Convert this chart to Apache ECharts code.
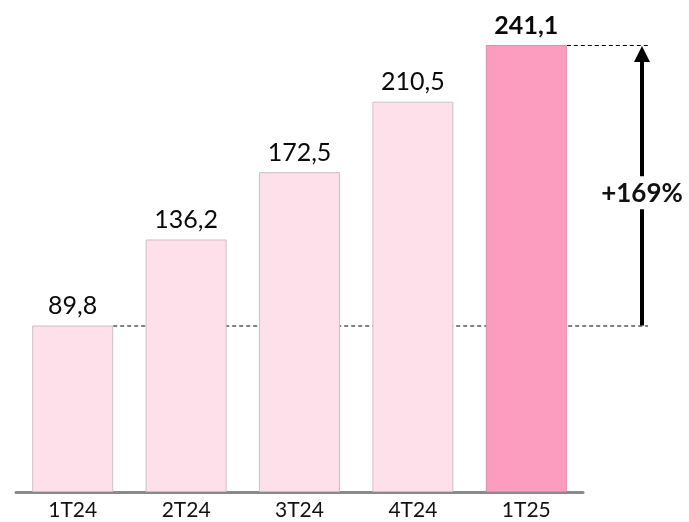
<!DOCTYPE html>
<html>
<head>
<meta charset="utf-8">
<script src="https://cdn.jsdelivr.net/npm/echarts@6/dist/echarts.min.js"></script>
<style>
  html, body { margin: 0; padding: 0; background: #fff; }
  #main { width: 689px; height: 522px; }
</style>
</head>
<body>
<div id="main"></div>
<script>
var categories = ['1T24', '2T24', '3T24', '4T24', '1T25'];
var values = [89.8, 136.2, 172.5, 210.5, 241.1];
var growthLabel = '+169%';

var FONT = 'Lato, "Open Sans", sans-serif';
var chart = echarts.init(document.getElementById('main'));

function fmt(v) { return String(v).replace('.', ','); }

chart.setOption({
  animation: false,
  grid: { left: 16, right: 106, top: 45, bottom: 30 },
  xAxis: {
    type: 'category',
    data: categories,
    axisLine: { lineStyle: { color: '#8a8a8a', width: 3 } },
    axisTick: { show: false },
    axisLabel: { color: '#111', fontSize: 21, fontFamily: FONT, margin: 8 }
  },
  yAxis: {
    type: 'value', min: 0, max: 241.1,
    show: false, splitLine: { show: false }
  },
  series: [{
    type: 'bar',
    barWidth: 81,
    z: 5,
    data: values.map(function (v, i) {
      var last = i === values.length - 1;
      return {
        value: v,
        itemStyle: {
          color: last ? '#fc9cbf' : '#fde0ea',
          borderColor: last ? '#e58aac' : '#cfbfc5',
          borderWidth: 1
        },
        label: {
          fontWeight: last ? 'bold' : 'normal'
        }
      };
    }),
    label: {
      show: true, position: 'top', distance: 7,
      color: '#0a0a0a', fontSize: 25, fontFamily: FONT,
      formatter: function (p) { return fmt(p.value); }
    }
  }]
});

// reference lines and arrow, placed through the axes
var pLow = chart.convertToPixel({ seriesIndex: 0 }, [0, values[0]]);
var lastIdx = values.length - 1;
var pHigh = chart.convertToPixel({ seriesIndex: 0 }, [lastIdx, values[lastIdx]]);
var half = 40.5;
var ax = 642, lineEnd = 648;
var midY = (pLow[1] + pHigh[1]) / 2 + 8;
var dash = { stroke: '#000', lineWidth: 1, lineDash: [4, 3] };

chart.setOption({
  graphic: [
    { type: 'line', z: -10, shape: { x1: pLow[0] + half, y1: pLow[1] + 0.5, x2: lineEnd, y2: pLow[1] + 0.5 }, style: dash },
    { type: 'line', z: -10, shape: { x1: pHigh[0] + half, y1: pHigh[1] + 0.5, x2: lineEnd, y2: pHigh[1] + 0.5 }, style: dash },
    { type: 'line', shape: { x1: ax, y1: pLow[1], x2: ax, y2: midY + 16 }, style: { stroke: '#000', lineWidth: 4 } },
    { type: 'line', shape: { x1: ax, y1: midY - 17, x2: ax, y2: pHigh[1] + 14 }, style: { stroke: '#000', lineWidth: 4 } },
    { type: 'polygon', shape: { points: [[ax, pHigh[1] + 1], [ax - 8, pHigh[1] + 17], [ax + 8, pHigh[1] + 17]] }, style: { fill: '#000' } },
    { type: 'text', x: ax, y: midY, style: {
        text: growthLabel, fill: '#111', font: 'bold 26px ' + FONT,
        textAlign: 'center', textVerticalAlign: 'middle'
    } }
  ]
});
</script>
</body>
</html>
